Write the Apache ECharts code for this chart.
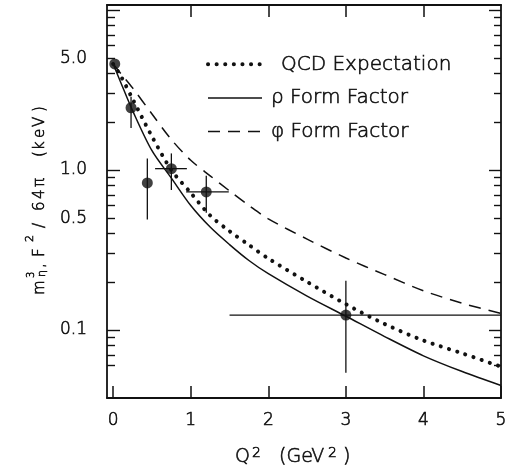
<!DOCTYPE html>
<html>
<head>
<meta charset="utf-8">
<script src="https://cdn.jsdelivr.net/npm/echarts@6/dist/echarts.min.js"></script>
<style>
  html, body { margin: 0; padding: 0; background: #fff; }
  #chart { width: 508px; height: 471px; }
</style>
</head>
<body>
<div id="chart"></div>
<script>
// Q² sampling points (GeV²) for the three model curves
const q2Grid = [0, 0.1, 0.25, 0.5, 0.75, 1.0, 1.25, 1.5, 1.75, 2.0, 2.5, 3.0, 3.5, 4.0, 4.5, 5.0];
// m_η³ F²/64π (keV) predicted by each model
const qcdCurve = [4.6, 3.85, 2.78, 1.62, 1.0, 0.72, 0.52, 0.415, 0.34, 0.28, 0.2, 0.145, 0.109, 0.086, 0.0715, 0.059];
const rhoCurve = [4.6, 3.5, 2.35, 1.32, 0.89, 0.6, 0.44, 0.342, 0.272, 0.225, 0.163, 0.122, 0.091, 0.069, 0.055, 0.045];
const phiCurve = [4.6, 4.0, 3.26, 2.24, 1.55, 1.15, 0.92, 0.74, 0.6, 0.495, 0.37, 0.282, 0.222, 0.176, 0.147, 0.127];

// Measurements with their error ranges
const measQ2 = [0.02, 0.23, 0.44, 0.75, 1.2, 3.0];
const measVal = [4.6, 2.45, 0.83, 1.02, 0.73, 0.124];
const measLow = [4.6, 1.83, 0.49, 0.75, 0.54, 0.054];
const measHigh = [4.6, 2.87, 1.18, 1.27, 0.92, 0.203];
const measQ2Low = [0.02, 0.23, 0.44, 0.54, 0.94, 1.5];
const measQ2High = [0.02, 0.23, 0.44, 0.95, 1.49, 5.0];

// Axis ticks and labels
const xTicks = [0, 1, 2, 3, 4, 5];
const xTopTicks = [1, 2, 3, 4];
const yLabels = [0.1, 0.5, 1, 5];
const yMajorTicks = [0.1, 1, 10];
const yMinorTicks = [0.06, 0.07, 0.08, 0.09, 0.2, 0.3, 0.4, 0.5, 0.6, 0.7, 0.8, 0.9, 2, 3, 4, 5, 6, 7, 8, 9];

const seriesNames = ['QCD Expectation', 'ρ Form Factor', 'φ Form Factor'];

const ink = '#111';
const txtFont = 'DejaVu Sans';
const txtWeight = 200;
const txtEdge = 0.6;
const X_MIN = -0.08, X_MAX = 5;
const Y_MIN = 0.0376, Y_MAX = 10.75;

const pairs = (xs, ys) => xs.map((x, i) => [x, ys[i]]);

const tickLabelStyle = {
  color: ink, fontSize: 17, fontFamily: txtFont, fontWeight: txtWeight,
  textBorderColor: ink, textBorderWidth: txtEdge
};

function xAxisCfg(pos, ticks, showLabels) {
  return {
    type: 'value', position: pos, min: X_MIN, max: X_MAX,
    axisLine: { show: true, onZero: false, lineStyle: { color: ink, width: 1.8 } },
    axisTick: { show: true, inside: true, length: 12, customValues: ticks, lineStyle: { color: ink, width: 1.5 } },
    axisLabel: Object.assign({ show: showLabels, customValues: ticks, margin: 14 }, tickLabelStyle),
    splitLine: { show: false }
  };
}

function yAxisCfg(pos, ticks, len, showLine, showLabels) {
  return {
    type: 'log', position: pos, min: Y_MIN, max: Y_MAX, logBase: 10,
    axisLine: { show: showLine, onZero: false, lineStyle: { color: ink, width: 1.8 } },
    axisTick: { show: true, inside: true, length: len, customValues: ticks, lineStyle: { color: ink, width: 1.4 } },
    axisLabel: Object.assign({
      show: showLabels, customValues: yLabels, margin: 20,
      formatter: v => Number(v).toFixed(1)
    }, tickLabelStyle),
    splitLine: { show: false },
    minorTick: { show: false }
  };
}

// text fragment placed by its baseline (local coordinates)
function piece(s, x, size, baseline) {
  return {
    type: 'text', x: x, y: baseline - 0.345 * size, silent: true,
    style: {
      text: s, fontSize: size, fontFamily: txtFont, fontWeight: txtWeight,
      fill: ink, stroke: ink, lineWidth: txtEdge,
      align: 'left', verticalAlign: 'middle'
    }
  };
}

// y-axis title, written bottom-to-top
const yTitle = {
  type: 'group', x: 45, y: 295, rotation: Math.PI / 2, silent: true,
  children: [
    piece('m', 0, 15, 0),
    piece('3', 17, 10, -10),
    piece('η', 18, 11, 1),
    piece(',', 27, 15, 0),
    piece('F', 38, 15, 0),
    piece('2', 53, 11, -11),
    piece('/', 67, 15, 0),
    piece('6', 84, 15, 0),
    piece('4', 96, 15, 0),
    piece('π', 108, 15, 0),
    piece('(', 138, 15, 0),
    piece('k', 145, 15, 0),
    piece('e', 157, 15, 0),
    piece('V', 168, 15, 0),
    piece(')', 183, 15, 0)
  ]
};

const xTitle = {
  type: 'group', x: 0, y: 0, silent: true,
  children: [
    piece('Q', 235, 19, 464),
    piece('2', 252, 14, 458),
    piece('(GeV', 279, 19, 464),
    piece('2', 328, 14, 458),
    piece(')', 343, 19, 464)
  ]
};

const chart = echarts.init(document.getElementById('chart'), null, { renderer: 'canvas' });

chart.setOption({
  backgroundColor: '#fff',
  animation: false,
  grid: { left: 107, right: 7, top: 5, bottom: 73, containLabel: false, outerBoundsMode: 'none' },
  xAxis: [
    xAxisCfg('bottom', xTicks, true),
    xAxisCfg('top', xTopTicks, false)
  ],
  yAxis: [
    yAxisCfg('left', yMajorTicks, 13, true, true),
    yAxisCfg('left', yMinorTicks, 8, false, false),
    yAxisCfg('right', yMajorTicks, 12, true, false),
    yAxisCfg('right', yMinorTicks, 7, false, false)
  ],
  legend: {
    orient: 'vertical', left: 201, top: 49,
    itemWidth: 54, itemHeight: 20, itemGap: 13,
    selectedMode: false,
    data: seriesNames,
    lineStyle: { width: 'inherit' },
    itemStyle: { opacity: 0 },
    textStyle: {
      color: ink, fontSize: 20, fontFamily: txtFont, fontWeight: txtWeight,
      textBorderColor: ink, textBorderWidth: txtEdge,
      padding: [0, 0, 0, 4],
      rich: { sp: { width: 10 } }
    },
    formatter: n => (n === seriesNames[0] ? '{sp|}' + n : n)
  },
  graphic: [yTitle, xTitle],
  series: [
    {
      name: seriesNames[0], type: 'line', data: pairs(q2Grid, qcdCurve),
      symbol: 'none', smooth: 0.3, clip: true,
      lineStyle: { color: ink, width: 4, type: [0.1, 8.5], cap: 'round' },
      itemStyle: { color: ink }
    },
    {
      name: seriesNames[1], type: 'line', data: pairs(q2Grid, rhoCurve),
      symbol: 'none', smooth: 0.3, clip: true,
      lineStyle: { color: ink, width: 1.5 },
      itemStyle: { color: ink }
    },
    {
      name: seriesNames[2], type: 'line', data: pairs(q2Grid, phiCurve),
      symbol: 'none', smooth: 0.3, clip: true,
      lineStyle: { color: ink, width: 1.5, type: [12, 8] },
      itemStyle: { color: ink }
    },
    {
      type: 'custom', clip: true,
      data: measQ2.map((x, i) => [x, measVal[i], measLow[i], measHigh[i], measQ2Low[i], measQ2High[i]]),
      encode: { x: 0, y: 1 },
      renderItem: (params, api) => {
        const x = api.value(0), y = api.value(1);
        const top = api.coord([x, api.value(3)]);
        const bot = api.coord([x, api.value(2)]);
        const lft = api.coord([api.value(4), y]);
        const rgt = api.coord([api.value(5), y]);
        const st = { stroke: ink, lineWidth: 1.3 };
        return {
          type: 'group',
          children: [
            { type: 'line', shape: { x1: top[0], y1: top[1], x2: bot[0], y2: bot[1] }, style: st },
            { type: 'line', shape: { x1: lft[0], y1: lft[1], x2: rgt[0], y2: rgt[1] }, style: st }
          ]
        };
      },
      z: 3
    },
    {
      type: 'scatter', data: pairs(measQ2, measVal),
      symbol: 'circle', symbolSize: 11,
      itemStyle: { color: ink }, z: 4
    }
  ]
});
</script>
</body>
</html>
